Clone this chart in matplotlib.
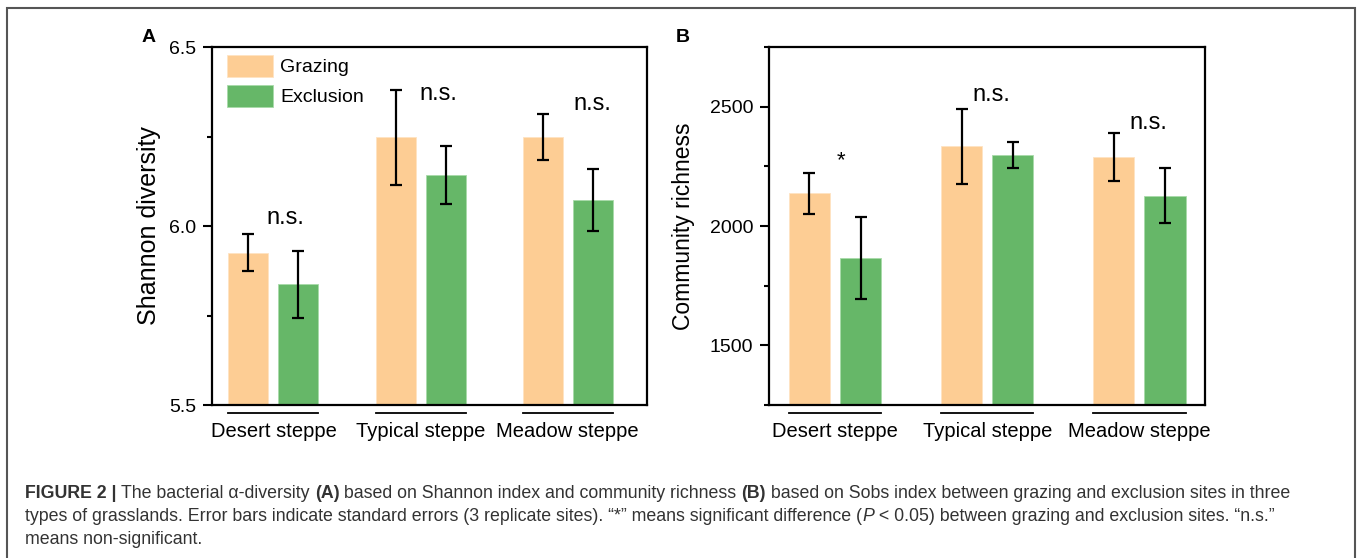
import matplotlib
matplotlib.use("Agg")
import matplotlib.pyplot as plt
import numpy as np
from matplotlib.patches import Rectangle
import matplotlib.transforms as mtransforms

plt.rcParams['font.family'] = ['Liberation Sans', 'DejaVu Sans']

# ---------------- data ----------------
categories = ["Desert steppe", "Typical steppe", "Meadow steppe"]
series_names = ["Grazing", "Exclusion"]

shannon_grazing = [5.925, 6.248, 6.249]
shannon_grazing_se = [0.052, 0.133, 0.065]
shannon_exclusion = [5.837, 6.142, 6.072]
shannon_exclusion_se = [0.093, 0.081, 0.086]
shannon_marks = ["n.s.", "n.s.", "n.s."]
shannon_mark_y = [6.022, 6.369, 6.341]
shannon_mark_dx = [0.08, 0.12, 0.17]

rich_grazing = [2137, 2334, 2290]
rich_grazing_se = [87, 157, 101]
rich_exclusion = [1866, 2298, 2127]
rich_exclusion_se = [172, 55, 115]
rich_marks = ["*", "n.s.", "n.s."]
rich_mark_y = [2275, 2549, 2432]
rich_mark_dx = [0.04, 0.03, 0.06]

shannon_ticks = [5.5, 6.0, 6.5]
rich_ticks = [1500, 2000, 2500]

col_graz = "#FDCD94"
col_excl = "#66B768"

W, H = 1357, 558
fig = plt.figure(figsize=(W / 100, H / 100), dpi=100)

def px_axes(l, r, t, b):
    return fig.add_axes([l / W, 1 - b / H, (r - l) / W, (b - t) / H])

ax1 = px_axes(212, 647, 47, 405)
ax2 = px_axes(769, 1205, 47, 405)

def draw_panel(ax, g, gse, e, ese, marks, mark_y, mark_dx, ylim, yticks, minor, ylabel, ylsize,
               xlim, width, off, ylabel_x):
    x = np.arange(len(categories))
    ekw = dict(elinewidth=1.6, capthick=1.6, ecolor="black")
    ax.bar(x - off, g, width, yerr=gse, capsize=4, color=col_graz, edgecolor="#FFE3C2",
           linewidth=0.6, error_kw=ekw, label=series_names[0], zorder=2)
    ax.bar(x + off, e, width, yerr=ese, capsize=4, color=col_excl, edgecolor="#A8DAA9",
           linewidth=0.6, error_kw=ekw, label=series_names[1], zorder=2)
    ax.set_xlim(*xlim)
    ax.set_ylim(*ylim)
    ax.set_yticks(yticks)
    ax.set_yticks(minor, minor=True)
    ax.set_xticks(x)
    ax.set_xticklabels(categories, fontsize=14.5)
    ax.tick_params(axis="x", length=0, pad=12)
    ax.tick_params(axis="y", which="major", length=6.5, width=1.5, direction="out", labelsize=14, pad=5)
    ax.tick_params(axis="y", which="minor", length=3.5, width=1.5, direction="out")
    for s in ax.spines.values():
        s.set_linewidth(1.6)
    ax.set_ylabel(ylabel, fontsize=ylsize)
    ax.yaxis.set_label_coords(ylabel_x, 0.5)
    trans = mtransforms.blended_transform_factory(ax.transData, ax.transAxes)
    for xi in x:
        ax.plot([xi - off - width / 2, xi + off + width / 2], [-0.022, -0.022], color="black",
                lw=1.3, transform=trans, clip_on=False)
    for xi, m, my, dx in zip(x, marks, mark_y, mark_dx):
        ax.text(xi + dx, my, m, ha="center", va="center", fontsize=17 if m != "*" else 16)

draw_panel(ax1, shannon_grazing, shannon_grazing_se, shannon_exclusion, shannon_exclusion_se,
           shannon_marks, shannon_mark_y, shannon_mark_dx, (5.5, 6.5), shannon_ticks, [5.75, 6.25],
           "Shannon diversity", 18, (-0.418, 2.54), 0.272, 0.17, -0.117)
draw_panel(ax2, rich_grazing, rich_grazing_se, rich_exclusion, rich_exclusion_se,
           rich_marks, rich_mark_y, rich_mark_dx, (1250, 2750), rich_ticks, [1250, 1750, 2250, 2750],
           "Community richness", 16.5, (-0.434, 2.431), 0.27, 0.168, -0.17)

ax1.legend(loc="upper left", bbox_to_anchor=(0.034, 0.979), frameon=False, fontsize=14,
           handlelength=2.4, handleheight=1.4, handletextpad=0.35, labelspacing=0.4,
           borderpad=0, borderaxespad=0)

fig.text(149 / W, 1 - 38 / H, "A", fontsize=14, fontweight="bold", ha="center", va="center")
fig.text(683 / W, 1 - 37 / H, "B", fontsize=14, fontweight="bold", ha="center", va="center")

# outer frame
fig.patches.append(Rectangle((7 / W, -0.05), (1355 - 7) / W, 1.05 - 8 / H, transform=fig.transFigure,
                             fill=False, edgecolor="#555555", linewidth=1.5))

# caption
cap_family = ["Liberation Sans Narrow", "Liberation Sans", "DejaVu Sans"]
cap_size = 12.75
cap_color = "#333333"
caption_lines = [
    [("FIGURE 2 | ", "bold", "normal"), ("The bacterial α-diversity ", "normal", "normal"), ("(A)", "bold", "normal"),
     (" based on Shannon index and community richness ", "normal", "normal"), ("(B)", "bold", "normal"),
     (" based on Sobs index between grazing and exclusion sites in three", "normal", "normal")],
    [("types of grasslands. Error bars indicate standard errors (3 replicate sites). \u201c*\u201d means significant difference (", "normal", "normal"),
     ("P", "normal", "italic"), (" < 0.05) between grazing and exclusion sites. \u201cn.s.\u201d", "normal", "normal")],
    [("means non-significant.", "normal", "normal")],
]
caption_y = [492, 515, 538]

fig.canvas.draw()
renderer = fig.canvas.get_renderer()
for line, yy in zip(caption_lines, caption_y):
    xpx = 25
    for txt, wt, st in line:
        t = fig.text(xpx / W, 1 - (yy + 1.5) / H, txt, fontsize=cap_size, fontweight=wt, fontstyle=st,
                     family=cap_family, color=cap_color, ha="left", va="center")
        bb = t.get_window_extent(renderer)
        xpx += bb.width

fig.savefig("out.png", dpi=100)
